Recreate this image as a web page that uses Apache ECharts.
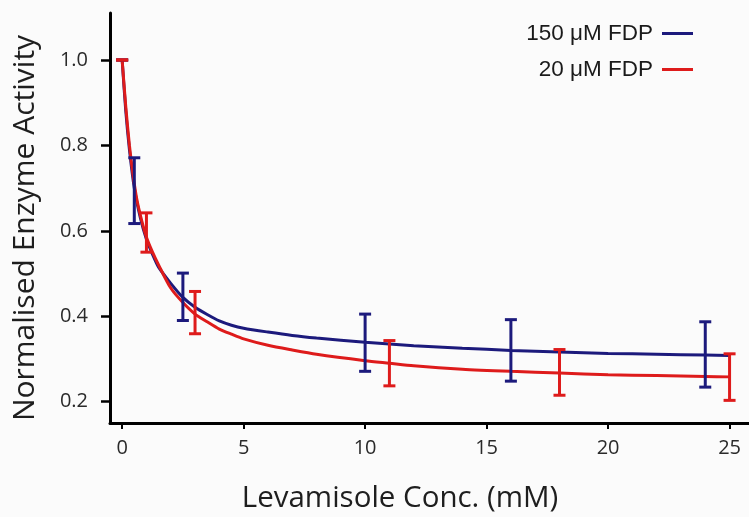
<!DOCTYPE html>
<html>
<head>
<meta charset="utf-8">
<script src="https://cdn.jsdelivr.net/npm/echarts@6/dist/echarts.min.js"></script>
<style>
html,body{margin:0;padding:0;background:#fbfbfb;}
#chart{width:749px;height:517px;}
</style>
</head>
<body>
<div id="chart"></div>
<script>
// Fitted curves
var curve150X = [0, 0.15, 0.3, 0.5, 0.75, 1.0, 1.25, 1.5, 2.0, 2.5, 3.0, 3.5, 4.0, 4.5, 5.0, 6.0, 7.0, 8.0, 10, 12, 14, 16, 18, 20, 22, 24, 25];
var curve150Y = [1.0, 0.88, 0.79, 0.70, 0.63, 0.58, 0.545, 0.515, 0.477, 0.444, 0.421, 0.404, 0.389, 0.379, 0.372, 0.363, 0.355, 0.349, 0.339, 0.331, 0.325, 0.320, 0.316, 0.313, 0.311, 0.309, 0.308];
var curve20X = [0, 0.15, 0.3, 0.45, 0.6, 0.8, 1.0, 1.25, 1.5, 2.0, 2.5, 3.0, 3.5, 4.0, 4.5, 5.0, 6.0, 7.0, 8.0, 10, 11, 12, 14, 16, 18, 20, 22, 24, 25];
var curve20Y = [1.0, 0.89, 0.80, 0.73, 0.675, 0.625, 0.585, 0.55, 0.52, 0.466, 0.432, 0.405, 0.387, 0.370, 0.358, 0.347, 0.332, 0.321, 0.311, 0.296, 0.290, 0.284, 0.276, 0.271, 0.267, 0.263, 0.261, 0.259, 0.258];

// Error bars: x, low, high
var err150X = [0, 0.5, 2.5, 10, 16, 24];
var err150Low = [1.0, 0.617, 0.390, 0.271, 0.248, 0.234];
var err150High = [1.0, 0.771, 0.501, 0.405, 0.392, 0.387];
var err20X = [0, 1, 3, 11, 18, 25];
var err20Low = [1.0, 0.550, 0.359, 0.237, 0.215, 0.203];
var err20High = [1.0, 0.642, 0.458, 0.343, 0.322, 0.312];

var xTicks = [0, 5, 10, 15, 20, 25];
var yTicks = [0.2, 0.4, 0.6, 0.8, 1.0];

var name150 = '150 \u03bcM FDP';
var name20 = '20 \u03bcM FDP';
var blue = '#1c1a7c';
var red = '#de1b1b';

function zip(a, b) { return a.map(function (v, i) { return [v, b[i]]; }); }
function zip3(a, b, c) { return a.map(function (v, i) { return [v, b[i], c[i]]; }); }

function errRender(color) {
  return function (params, api) {
    var x = api.value(0);
    var lo = api.coord([x, api.value(1)]);
    var hi = api.coord([x, api.value(2)]);
    var hw = 6;
    var st = { stroke: color, lineWidth: 3, fill: null };
    return {
      type: 'group',
      children: [
        { type: 'line', shape: { x1: lo[0], y1: lo[1], x2: hi[0], y2: hi[1] }, style: st },
        { type: 'line', shape: { x1: hi[0] - hw, y1: hi[1], x2: hi[0] + hw, y2: hi[1] }, style: st },
        { type: 'line', shape: { x1: lo[0] - hw, y1: lo[1], x2: lo[0] + hw, y2: lo[1] }, style: st }
      ]
    };
  };
}

var chart = echarts.init(document.getElementById('chart'), null, { renderer: 'canvas' });
var labelFont = '"Open Sans", "DejaVu Sans", sans-serif';
chart.setOption({
  backgroundColor: '#fbfbfb',
  animation: false,
  grid: { left: 110, right: 0, top: 13, bottom: 94 },
  legend: {
    data: [name150, name20],
    orient: 'vertical',
    align: 'right',
    right: 51,
    top: 17,
    itemGap: 13,
    itemWidth: 31,
    itemHeight: 3,
    icon: 'rect',
    textStyle: { fontSize: 22.5, fontFamily: '"Liberation Sans", Arial, sans-serif', color: '#1a1a1a', lineHeight: 23, padding: [0, 4, 0, 0] }
  },
  xAxis: {
    type: 'value',
    min: -0.5,
    max: 25.8,
    splitLine: { show: false },
    axisLine: { onZero: false, lineStyle: { color: '#000', width: 3 } },
    axisTick: { customValues: xTicks, length: 6, lineStyle: { color: '#000', width: 2 } },
    axisLabel: { customValues: xTicks, margin: 15, fontSize: 20, fontFamily: labelFont, color: '#2a2a2a' }
  },
  yAxis: {
    type: 'value',
    min: 0.15,
    max: 1.11,
    splitLine: { show: false },
    axisLine: { onZero: false, lineStyle: { color: '#000', width: 3 } },
    axisTick: { customValues: yTicks, length: 9, lineStyle: { color: '#000', width: 2.5 } },
    axisLabel: {
      customValues: yTicks, margin: 22, fontSize: 20, fontFamily: labelFont, color: '#2a2a2a',
      formatter: function (v) { return v.toFixed(1); }
    }
  },
  graphic: [
    {
      type: 'text', x: 400, y: 499,
      style: { text: 'Levamisole Conc. (mM)', font: '29.5px "Open Sans", sans-serif', fill: '#1e1e1e', textAlign: 'center', textVerticalAlign: 'middle' }
    },
    {
      type: 'text', x: 25, y: 228, rotation: Math.PI / 2,
      style: { text: 'Normalised Enzyme Activity', font: '30px "Open Sans", sans-serif', fill: '#1e1e1e', textAlign: 'center', textVerticalAlign: 'middle' }
    }
  ],
  series: [
    {
      name: name150, type: 'line', data: zip(curve150X, curve150Y),
      showSymbol: false, smooth: 0.25,
      lineStyle: { color: blue, width: 3 }, itemStyle: { color: blue }, z: 2
    },
    {
      name: name20, type: 'line', data: zip(curve20X, curve20Y),
      showSymbol: false, smooth: 0.25,
      lineStyle: { color: red, width: 3 }, itemStyle: { color: red }, z: 3
    },
    {
      name: 'err150', type: 'custom', data: zip3(err150X, err150Low, err150High),
      renderItem: errRender(blue), z: 4
    },
    {
      name: 'err20', type: 'custom', data: zip3(err20X, err20Low, err20High),
      renderItem: errRender(red), z: 5
    }
  ]
});
</script>
</body>
</html>
